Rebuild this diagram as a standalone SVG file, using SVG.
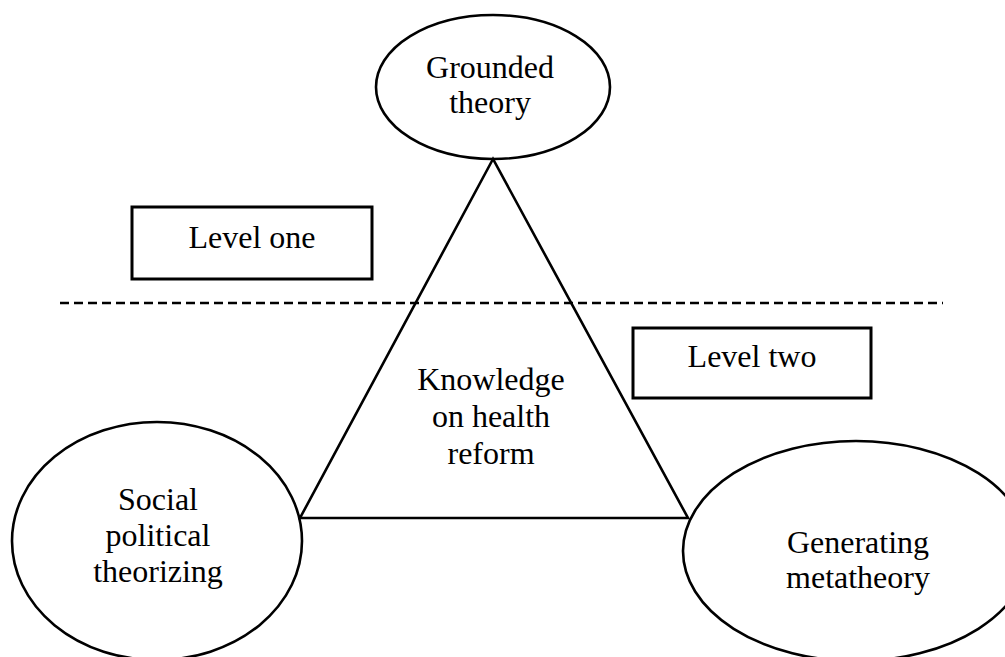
<svg xmlns="http://www.w3.org/2000/svg" width="1005" height="657" viewBox="0 0 1005 657">
<style>
.shape{fill:none;stroke:#000;stroke-width:2.6}
.box{fill:none;stroke:#000;stroke-width:3}
.lbl{font-family:"Liberation Serif","Times New Roman",serif;font-size:32px;fill:#000;text-anchor:middle}
.divider{stroke:#000;stroke-width:2.6;stroke-dasharray:9 5;fill:none}
</style>
<rect width="1005" height="657" fill="#fff"/>
<line class="divider" x1="60" y1="303" x2="943" y2="303"/>
<g id="connectors">
<polygon class="shape" points="493,159 300,518 688,518" stroke-linejoin="miter"/>
</g>
<g id="grounded-theory">
<ellipse class="shape" cx="493" cy="87" rx="117" ry="72"/>
<text class="lbl" x="490" y="78">Grounded</text>
<text class="lbl" x="490" y="113">theory</text>
</g>
<g id="knowledge">
<text class="lbl" x="491" y="390">Knowledge</text>
<text class="lbl" x="491" y="427">on health</text>
<text class="lbl" x="491" y="464">reform</text>
</g>
<g id="social-political">
<ellipse class="shape" cx="157" cy="541" rx="145" ry="119"/>
<text class="lbl" x="158" y="510">Social</text>
<text class="lbl" x="158" y="546">political</text>
<text class="lbl" x="158" y="582">theorizing</text>
</g>
<g id="metatheory">
<ellipse class="shape" cx="856" cy="551" rx="173" ry="110"/>
<text class="lbl" x="858" y="553">Generating</text>
<text class="lbl" x="858" y="588">metatheory</text>
</g>
<g id="level-one">
<rect class="box" x="132" y="207" width="240" height="72"/>
<text class="lbl" x="252" y="248">Level one</text>
</g>
<g id="level-two">
<rect class="box" x="633" y="328" width="238" height="70"/>
<text class="lbl" x="752" y="367">Level two</text>
</g>
</svg>
